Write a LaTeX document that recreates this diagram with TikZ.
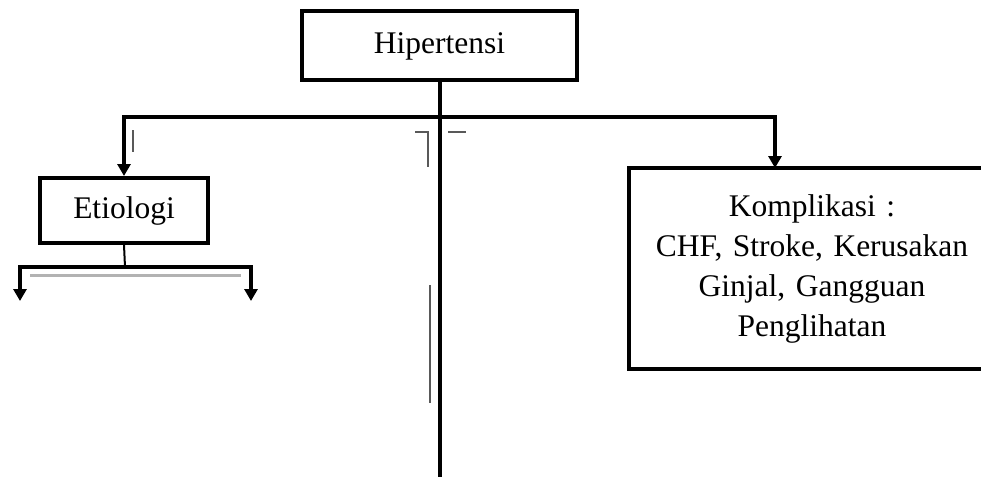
\documentclass[tikz,border=0pt]{standalone}
\usepackage{fontspec}
\setmainfont{Liberation Serif}
\usetikzlibrary{arrows.meta}
\begin{document}
\begin{tikzpicture}[x=1pt,y=-1pt,
  box/.style={draw,line width=4pt,rectangle,inner sep=0pt,align=center,
    font=\fontsize{31.5}{40}\selectfont},
  conn/.style={line width=4pt},
  thinconn/.style={line width=2pt},
  arr/.style={line width=4pt,-{Triangle[width=13pt,length=12pt]}},
  artline/.style={line width=2pt,gray!70!black}]
\useasboundingbox (0,0) rectangle (981,476);
\clip (0,0) rectangle (981,476);
% boxes
\node[box,minimum width=275pt,minimum height=69pt] (hip) at (439.5,46) {Hipertensi};
\node[box,minimum width=168pt,minimum height=65pt] (etio) at (124,210.5) {Etiologi};
\node[box,minimum width=366pt,minimum height=201pt,text width=360pt] (komp) at (812,268.5)
  {Komplikasi :\\CHF, Stroke, Kerusakan\\Ginjal, Gangguan\\Penglihatan};
% coordinates
\coordinate (j1) at (439.5,117);
\coordinate (kin) at (775,168);
\coordinate (bot) at (439.5,478);
\coordinate (e1) at (125,267);
\coordinate (el) at (20,301);
\coordinate (er) at (251,301);
% connectors
\draw[conn] (hip.south) -- (j1);
\draw[arr] (j1) -| (etio.north);
\draw[arr] (j1) -| (kin);
\draw[conn] (j1) -- (bot);
\draw[thinconn] (etio.south) -- (e1);
\draw[arr] (e1) -| (el);
\draw[arr] (e1) -| (er);
% faint artefact marks
\draw[gray!60,line width=3pt] (30,275) -- (241,275);
\draw[artline] (133,130) -- (133,152);
\draw[artline] (415,132) -- (428,132) -- (428,167);
\draw[artline] (448,132) -- (466,132);
\draw[artline] (430,285) -- (430,403);
\end{tikzpicture}
\end{document}
